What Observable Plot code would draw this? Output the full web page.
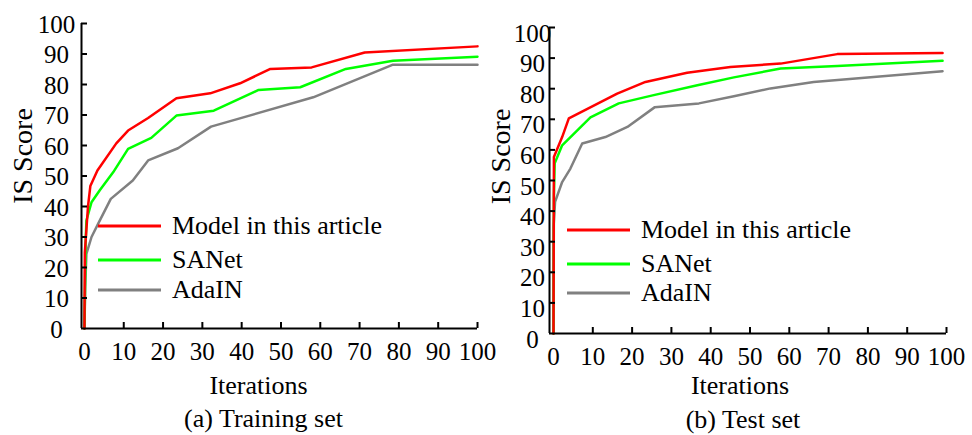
<!DOCTYPE html>
<html>
<head>
<meta charset="utf-8">
<script src="https://cdn.jsdelivr.net/npm/d3@7"></script>
<script src="https://cdn.jsdelivr.net/npm/@observablehq/plot@0.6"></script>
<style>
  html, body { margin: 0; padding: 0; background: #fff; }
  #wrap { position: relative; width: 972px; height: 435px; overflow: hidden;
          font-family: "Liberation Serif", "Times New Roman", serif; }
  #wrap svg { position: absolute; top: 0; }
</style>
</head>
<body>
<div id="wrap"></div>
<script>
// ---- data (iteration, IS score) ----
const seriesNames = ["Model in this article", "SANet", "AdaIN"];
const seriesColors = ["#ff0000", "#00ff00", "#808080"];

const trainModel = [[0,0],[0.1,25],[0.9,40],[1.5,46.7],[3.3,51.8],[8.1,60.7],[11.1,64.9],[16.2,69],[23.4,75.5],[32,77.1],[39.6,80.4],[47.3,85.1],[57.8,85.6],[71.3,90.5],[100,92.5]];
const trainSANet = [[0,0],[0.3,28],[0.5,35.4],[1.8,41.4],[3.9,45.3],[7.3,51.2],[11.1,58.9],[17,62.5],[23.4,69.8],[32.9,71.4],[44.3,78.2],[54.9,79.1],[66.5,85.1],[78.5,87.8],[100,89.1]];
const trainAdaIN = [[0,0],[0.2,13.6],[0.5,24.5],[1.8,30],[3.5,34.4],[6.7,42.5],[12.3,48.5],[16.2,55.1],[23.8,59.1],[32.2,66.2],[58.2,75.8],[78.5,86.5],[100,86.5]];

const testModel = [[0,0],[0.1,57.7],[2.2,64.2],[3.9,70.3],[16.2,78.4],[23.4,82.2],[34,85.2],[45,87.1],[57.8,88.2],[72.2,91.3],[99,91.7]];
const testSANet = [[0,0],[0.1,45],[0.3,55.6],[2.2,61.5],[9.4,70.6],[16.6,75.2],[25.5,77.9],[36.6,81.1],[45.9,83.7],[57.8,86.6],[72.2,87.4],[99,89.1]];
const testAdaIN = [[0,0],[0.02,35],[0.4,43],[2.2,49.5],[4.3,53.9],[7.3,62.1],[13.2,64.2],[18.8,67.5],[25.7,73.9],[37,75.2],[45.9,77.5],[55.2,80.1],[66.2,82.2],[99,85.7]];

const xTicks = [0,10,20,30,40,50,60,70,80,90,100];
const yTicks = [0,10,20,30,40,50,60,70,80,90,100];
const xLabel = "Iterations";
const yLabel = "IS Score";
const captions = ["(a) Training set", "(b) Test set"];

const FONT = "\"Liberation Serif\", \"Times New Roman\", serif";
const wrap = document.getElementById("wrap");

function panel(cfg) {
  const H = 435;
  const innerW = cfg.width - cfg.marginLeft - cfg.marginRight;
  const innerH = H - cfg.marginTop - cfg.marginBottom;
  const lines = cfg.series.map((s, i) => ({ data: s, color: seriesColors[i] }));
  const marks = [];
  // draw back to front: AdaIN, SANet, Model
  for (let i = lines.length - 1; i >= 0; i--) {
    marks.push(Plot.line(lines[i].data, { x: d => d[0], y: d => d[1], stroke: lines[i].color, strokeWidth: 2.5 }));
  }
  const T = { fill: "#000", lineAnchor: "middle" };
  marks.push(
    Plot.ruleY([0], { stroke: "#000", strokeWidth: 2 }),
    Plot.ruleX([cfg.xDomain[0]], { stroke: "#000", strokeWidth: 2 }),
    Plot.tickX(xTicks.slice(1), { x: d => d, insetTop: innerH - 6, stroke: "#000", strokeWidth: 2 }),
    Plot.tickY(yTicks.slice(1), { y: d => d, insetRight: innerW - 6, stroke: "#000", strokeWidth: 2 }),
    Plot.text(xTicks, { ...T, x: d => d, frameAnchor: "bottom", dy: 23, text: d => String(d), textAnchor: "middle", fontSize: 25 }),
    Plot.text(yTicks, { ...T, y: d => d, frameAnchor: "left", dx: cfg.yLabDx, dy: cfg.yLabDy, text: d => String(d), textAnchor: "middle", fontSize: 25 }),
    Plot.text([yLabel], { ...T, frameAnchor: "left", rotate: -90, textAnchor: "middle", dx: cfg.titleYDx, dy: cfg.titleYDy, text: d => d, fontSize: 28 }),
    Plot.text([xLabel], { ...T, frameAnchor: "bottom", textAnchor: "middle", dx: cfg.titleXDx, dy: cfg.titleXDy, text: d => d, fontSize: 26 }),
    Plot.text([cfg.caption], { ...T, frameAnchor: "bottom", textAnchor: "middle", dx: cfg.capDx, dy: cfg.capDy, text: d => d, fontSize: 26 })
  );
  const svg = Plot.plot({
    width: cfg.width, height: H,
    marginLeft: cfg.marginLeft, marginRight: cfg.marginRight,
    marginTop: cfg.marginTop, marginBottom: cfg.marginBottom,
    x: { domain: cfg.xDomain, axis: null },
    y: { domain: [0, 100], axis: null },
    style: { fontFamily: FONT, background: "transparent", overflow: "visible", maxWidth: "none" },
    marks
  });
  svg.style.left = cfg.left + "px";
  wrap.appendChild(svg);

  // legend overlay (built from the series arrays)
  const leg = d3.select(wrap).append("svg")
    .attr("width", 300).attr("height", 110)
    .style("left", cfg.legX + "px").style("top", (cfg.legY - 15) + "px")
    .style("overflow", "visible");
  seriesNames.forEach((name, i) => {
    const y = 15 + cfg.legGaps[i];
    leg.append("line").attr("x1", 0).attr("x2", 63).attr("y1", y).attr("y2", y)
      .attr("stroke", seriesColors[i]).attr("stroke-width", 3);
    leg.append("text").attr("x", 74).attr("y", y).attr("dy", "0.32em")
      .attr("font-family", FONT).attr("font-size", 26).attr("fill", "#000").text(name);
  });
}

panel({
  series: [trainModel, trainSANet, trainAdaIN], caption: captions[0],
  left: 0, width: 486, marginLeft: 81, marginRight: 9, marginTop: 23, marginBottom: 107,
  xDomain: [-0.75, 100],
  yLabDx: -25, yLabDy: 1,
  titleYDx: -58, titleYDy: -20, titleXDx: -21, titleXDy: 57, capDx: -16, capDy: 90,
  legX: 98, legY: 226, legGaps: [0, 34, 64]
});
panel({
  series: [testModel, testSANet, testAdaIN], caption: captions[1],
  left: 486, width: 486, marginLeft: 63, marginRight: 26, marginTop: 27, marginBottom: 102,
  xDomain: [-1.02, 100],
  yLabDx: -17, yLabDy: 6,
  titleYDx: -48, titleYDy: -24, titleXDx: -8, titleXDy: 52, capDx: -5, capDy: 86,
  legX: 567, legY: 230, legGaps: [0, 34, 63]
});
</script>
</body>
</html>
